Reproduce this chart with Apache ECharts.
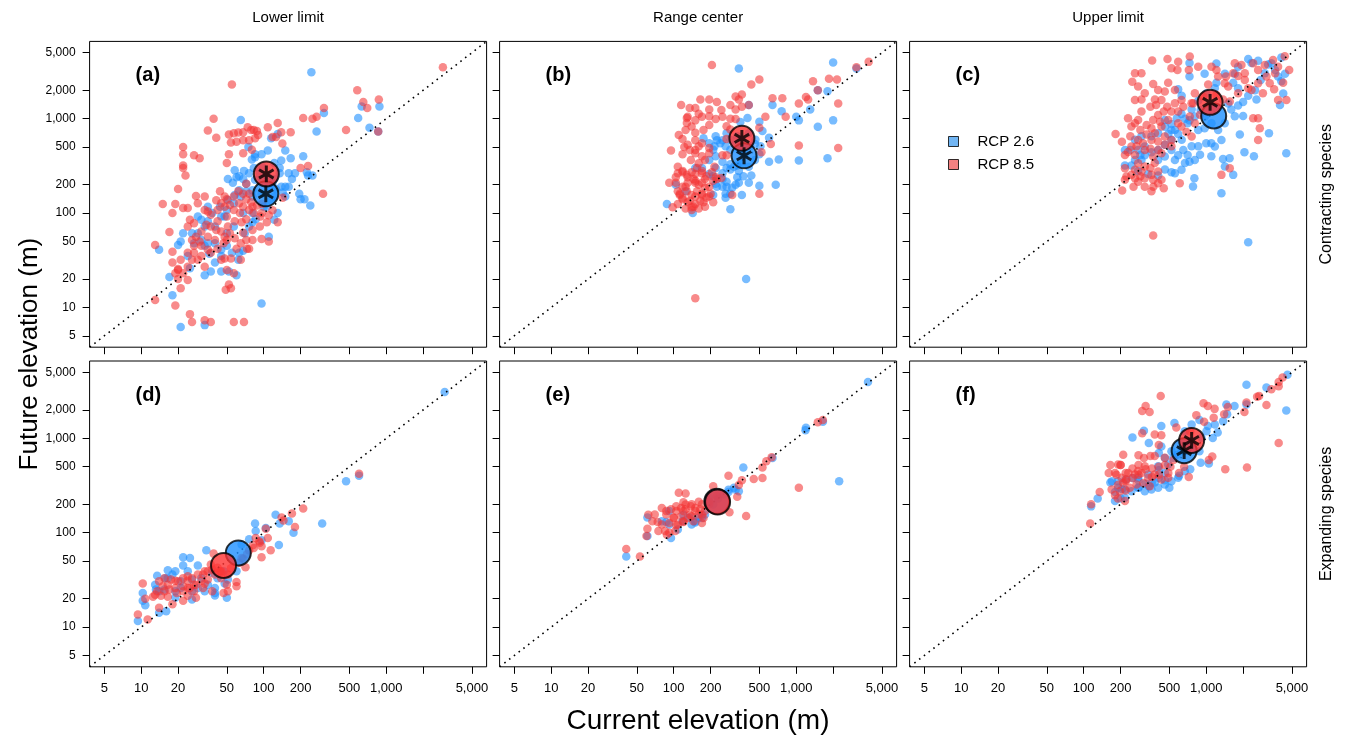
<!DOCTYPE html>
<html><head><meta charset="utf-8">
<script src="https://cdn.jsdelivr.net/npm/echarts@6/dist/echarts.min.js"></script>
<style>html,body{margin:0;padding:0;background:#fff}#chart{width:1348px;height:740px}</style>
</head><body><div id="chart"></div>
<script>
// ---------------- data ----------------
const AXIS_MIN = 3.7933, AXIS_MAX = 6591.6;
const TICK_VALUES = [5, 10, 20, 50, 100, 200, 500, 1000, 2000, 5000];
const X_LABEL_VALUES = [5, 10, 20, 50, 100, 200, 500, 1000, 5000];
const Y_LABEL_VALUES = [5, 10, 20, 50, 100, 200, 500, 1000, 2000, 5000];
const COLUMN_TITLES = ['Lower limit', 'Range center', 'Upper limit'];
const ROW_TITLES = ['Contracting species', 'Expanding species'];
const PANEL_LABELS = ['(a)', '(b)', '(c)', '(d)', '(e)', '(f)'];
const SERIES_NAMES = ['RCP 2.6', 'RCP 8.5'];
const X_TITLE = 'Current elevation (m)';
const Y_TITLE = 'Future elevation (m)';

// [current elevation, future elevation] per species
const aBlue = [[245,3100],[65,970],[310,1150],[270,730],[630,1350],[880,1350],[590,1020],[730,800],[860,730],[108,460],[150,460],[166,380],[210,400],[230,250],[250,250],[225,270],[195,160],[215,140],[240,120],[200,140],[130,100],[110,56],[96,11],[75,500],[80,370],[85,390],[96,420],[69,280],[60,240],[56,210],[72,205],[85,225],[108,245],[118,210],[139,190],[150,150],[122,150],[96,160],[81,175],[65,150],[57,127],[50,108],[45,92],[40,72],[35,82],[31,85],[29,92],[22,61],[21,50],[27,48],[33,45],[36,37],[40,30],[33,22],[37,24],[45,24],[52,24],[60,22],[62,32],[68,40],[50,45],[45,41],[35,48],[24,35],[25,26],[17,21],[18,13.5],[21,6.2],[33,6.5],[14,41],[20,46],[50,61],[57,72],[81,100],[100,117],[122,85],[81,80],[68,100],[150,190],[160,265],[135,300],[115,620],[130,690],[85,420],
  [58,285],[63,245],[68,230],[76,265],[83,300],[93,265],[97,230],[110,190],[122,230],[135,265],[126,180],[143,165],[160,190],[170,230],[180,265],[97,310],[122,340],[139,360],[81,150],[72,170],[63,175],[58,155],[51,138],[48,92],[44,117],[38,100],[35,117],[33,72],[29,61],[26,61],[31,52],[40,48],[45,35],[55,38],[63,38],[70,61],[76,72],[86,86],[106,117],[115,138],[51,230]];
const aRed = [[2900,3500],[55,2300],[580,2000],[650,1500],[700,1300],[870,1600],[860,730],[470,760],[310,1300],[270,1050],[250,1000],[210,1020],[39,1000],[35,750],[41,630],[22,500],[22,420],[27,410],[30,380],[22,320],[22,300],[23,250],[20,180],[15,125],[19,125],[18,100],[13,46],[17,63],[18,39],[18,30],[20,25],[22,23],[19,23],[20,20],[21,16],[13,12],[19,10.5],[25,8.5],[26,7],[33,7.3],[37,7],[57,7],[69,7],[49,15.4],[52,17.5],[54,16],[52,680],[57,700],[62,715],[68,720],[74,810],[79,760],[83,760],[88,740],[90,670],[85,620],[76,590],[68,590],[60,570],[54,560],[108,810],[130,900],[118,640],[126,640],[139,720],[166,720],[142,545],[68,430],[52,420],[50,340],[80,470],[200,300],[230,315],[305,160],[143,145],[130,80],[110,50],[96,53],[68,62],[76,42],[73,42],[60,42],[54,33],[48,33],[45,32],[47,48],[41,66],[35,104],[33,150],[28,152],[29,127],[33,108],[24,113],[22,113],[25,85],[24,72],[27,78],[48,150],[45,127],[42,108],[50,92],[57,108],[63,127],[68,160],[72,205],[76,160],[81,117],[96,100],[106,80],[53,61],[50,52],[40,52],[31,45],[27,38],[26,32],[24,27],[29,32],[33,27],[35,56],[37,72],[57,23],[50,25],[65,32],[81,52],
  [41,137],[44,170],[48,117],[50,140],[53,122],[57,150],[62,170],[64,100],[68,117],[72,140],[76,108],[79,130],[83,100],[88,120],[94,92],[97,125],[72,86],[66,80],[58,82],[51,72],[45,64],[42,82],[37,96],[34,75],[31,64],[28,56],[26,52],[30,50],[35,41],[42,42],[48,56],[58,54],[65,48],[72,52],[81,66],[93,72],[110,95],[118,107],[37,38],[31,35],[27,45],[24,38],[21,32],[20,25.5],[24,19.5]];

const bBlue = [[340,3400],[2000,3950],[3100,3400],[1800,1950],[1500,2000],[1300,1250],[1000,1050],[1050,960],[2000,960],[1500,820],[760,1200],[640,1400],[410,1400],[400,1020],[500,930],[530,740],[600,630],[460,540],[500,420],[600,350],[720,370],[1050,360],[1800,380],[680,200],[500,195],[430,250],[360,155],[290,110],[265,145],[290,160],[320,200],[330,240],[250,265],[220,300],[270,300],[290,330],[330,320],[360,340],[290,470],[250,590],[225,590],[270,700],[330,650],[350,920],[175,620],[195,550],[210,470],[170,300],[150,300],[195,260],[220,205],[270,190],[104,200],[125,170],[88,125],[143,100],[390,20],[250,190],[210,155],
  [220,650],[240,550],[265,510],[290,600],[320,530],[345,467],[380,430],[420,510],[465,600],[510,510],[410,700],[360,600],[290,290],[310,310],[340,280],[370,245],[410,310],[460,366],[250,230],[270,215],[300,185],[225,190],[210,245],[340,210],[410,210],[265,160],[195,366],[220,400],[250,350],[215,510]];
const bRed = [[205,3700],[3900,4000],[3100,3500],[1850,2650],[2150,2600],[1370,2500],[1500,2000],[1200,1700],[1250,1600],[1050,1450],[2200,1450],[770,1650],[640,1650],[820,1050],[1050,520],[2200,490],[500,2600],[430,2300],[360,1800],[340,1600],[410,1400],[320,1250],[560,1050],[500,800],[620,540],[520,440],[500,160],[150,12.5],[115,1400],[135,1300],[165,1600],[195,1600],[225,1500],[195,1250],[170,1050],[150,960],[130,1050],[128,900],[125,760],[110,670],[118,610],[130,530],[150,590],[160,510],[195,490],[220,990],[250,1050],[290,1000],[320,990],[290,770],[270,830],[95,460],[118,420],[150,430],[170,400],[195,430],[250,410],[270,610],[104,240],[118,280],[130,240],[150,260],[170,280],[150,220],[125,190],[108,170],[118,140],[130,130],[150,150],[170,155],[195,190],[210,220],[220,240],[180,230],[195,150],[210,130],[175,130],[145,117],[98,115],[112,155],[150,210],[245,235],[300,155],[140,115],[170,210],[270,410],
  [108,310],[118,270],[128,255],[140,270],[155,300],[170,265],[185,245],[205,270],[225,230],[130,210],[145,230],[160,200],[180,185],[200,160],[118,190],[128,170],[140,155],[155,170],[170,160],[185,145],[112,160],[118,145],[135,135],[150,125],[165,135],[180,117],[108,125],[125,112],[140,108],[160,112],[104,210],[108,265],[92,210],[138,366],[160,337],[180,366],[215,310],[150,467],[170,550],[135,467],[122,500],[150,710],[175,760],[195,857],[140,825],[160,1130],[195,1060],[245,1240],[290,1400],[320,1715],[360,1340],[128,1015],[150,1300]];

const cBlue = [[730,3900],[970,3000],[1210,3850],[1210,2400],[1420,3000],[1710,3000],[2200,4300],[2340,3900],[2650,4100],[3200,3750],[4100,4450],[4400,3000],[4100,2500],[4250,1850],[4000,1400],[4500,430],[3250,700],[2450,400],[2050,440],[1880,680],[2000,1070],[1710,1060],[1820,1380],[2000,1500],[2200,1750],[2570,1600],[2500,2000],[1820,2100],[1660,2400],[1510,1450],[1600,1250],[1175,2100],[1000,1850],[860,1550],[760,1250],[730,960],[860,760],[970,790],[1100,550],[1000,550],[860,510],[760,510],[730,350],[890,415],[1100,400],[1370,375],[1550,380],[1420,311],[1660,254],[1330,162],[800,234],[780,191],[2200,49],[630,600],[590,690],[555,760],[520,880],[670,1000],[630,1750],[590,2050],[730,2800],[520,600],[520,467],[590,410],[460,530],[405,467],[357,440],[315,410],[278,467],[262,600],[296,650],[357,650],[460,820],[490,690],[245,320],[278,280],[336,260],[217,320],[405,250],[460,290],[520,270],[670,340],[555,366],[296,366],
  [405,701],[459,970],[520,761],[575,1011],[628,1125],[705,895],[807,1053],[900,1239],[975,1053],[1104,895],[1250,761],[1416,895],[1330,596],[1175,507],[650,467],[705,413],[807,366],[628,287],[555,264],[315,507],[290,413],[262,366],[240,467],[217,467],[405,366],[459,397],[3005,3030],[3400,3866],[3650,3280],[3855,2793],[2780,2576],[1820,3560]];
const cRed = [[362,4130],[483,4300],[590,4020],[734,4550],[520,3420],[582,3280],[721,3280],[860,3560],[262,3030],[296,3030],[249,2470],[369,2335],[489,2410],[405,2018],[459,1937],[555,2018],[262,1581],[296,1600],[381,1600],[431,1581],[628,1581],[758,1458],[807,1862],[1037,2310],[1211,3280],[1250,2793],[1416,2375],[1710,3866],[1937,3715],[2065,3030],[2415,3866],[2650,3280],[3005,3715],[3510,4196],[3855,3560],[3100,2793],[4240,2410],[3580,2050],[3855,1581],[4510,1581],[4375,4600],[1820,2840],[2065,2576],[1556,1518],[2415,1011],[2650,1011],[2735,792],[2650,596],[1556,299],[1330,254],[608,207],[369,58],[206,173],[182,690],[217,413],[245,826],[278,970],[296,1189],[326,858],[369,970],[405,1096],[431,826],[489,970],[520,1189],[590,1189],[628,826],[734,1053],[807,895],[381,701],[357,596],[405,573],[459,647],[520,596],[278,596],[245,507],[262,413],[315,467],[369,397],[431,430],[278,337],[315,311],[262,287],[223,244],[262,234],[315,234],[357,254],[405,275],[431,225],[369,225],[296,275],[217,299],[782,1458],[943,1715],[1211,1787],[1510,2188],[1660,3030],[1104,3560],
  [278,2200],[315,1862],[350,1340],[390,1400],[450,1190],[480,1340],[555,1460],[650,1340],[420,930],[357,790],[326,680],[290,760],[262,895],[230,1010],[240,650],[205,570],[230,445],[270,510],[305,550],[350,480],[405,467],[460,530],[520,510],[380,340],[350,300],[290,245],[245,255],[217,225],[255,190],[315,190],[370,190],[450,183],[278,215],[405,207],[357,170],[590,895],[690,725],[760,647],[890,1100],[1370,1600],[1820,1862],[2340,2018],[2900,1862],[3300,2375],[3650,3030],[4750,3280],[2650,2375],[2200,2100],[1450,2793]];

const dBlue = [[3000,3100],[470,350],[600,400],[300,125],[125,155],[135,125],[133,74],[175,100],[85,125],[34,65],[22,55],[25,54],[29,45],[16.5,40],[13.5,35],[18,36],[15.7,33],[24,39],[22,45],[10.3,23],[10.3,19],[10.8,17],[9.4,11.6],[14,14.2],[16,14.7],[26,19.6],[40,21.6],[50,20.4],[48,29],[40,26],[33,24],[13.2,25],[15.5,25],[19,24],[21,30.6],[26,32],[31,33],[60,39],[38,37.6],[47,39],[66,75],[76,85],[86,104],[104,112],[96,83],[160,132],
  [16.5,33],[19,39],[13,28],[14,24],[21,26],[26,24],[29,26],[35,28],[42,33],[51,32],[40,23],[19,20.4]];
const dRed = [[600,420],[210,180],[170,160],[145,135],[140,145],[180,115],[108,88],[104,110],[86,88],[96,55],[93,78],[82,74],[76,65],[71,43],[63,48],[60,30],[60,27],[50,28],[47,23],[39,60],[37,46],[33,39],[40,36],[35,32],[31,31],[27,28],[24,26],[22,27],[19,26],[16.5,28],[15,27],[13.5,24],[12.5,21],[14.5,21.5],[16.5,21],[18,17.5],[22,19],[24,21.5],[27,24],[32,26],[10.3,29],[10.8,20],[9.4,13.6],[11.3,12],[14,16],[19,31],[24,31],[38,24],[28,20.5],[44,39],[45,33],[51,24],[68,53],[114,65],
  [14,30.6],[15.5,33],[17.5,32],[20,30.6],[22,33],[24,34.6],[26,33],[29,36],[32,36],[35,39],[38,40.8],[42,42.5],[45,39],[17,25],[19.5,23],[22,24],[25,26],[28,28],[33,29],[13,22],[15.5,24],[51,36],[54,42],[66,54],[73,59],[83,69],[92,81],[96,72]];

const eBlue = [[3850,3950],[1200,1290],[1190,1220],[1650,1500],[640,620],[370,490],[2240,350],[280,285],[340,275],[310,300],[255,255],[150,128],[160,145],[92,170],[87,130],[95,88],[61,145],[61,92],[41,56],[135,145],[120,155],[195,235],
  [118,132],[140,122],[150,132],[170,143],[180,156],[92,122],[80,132],[108,108],[210,199],[230,230],[280,270],[320,285]];
const eRed = [[1650,1560],[1500,1480],[630,630],[570,570],[530,490],[530,380],[450,370],[360,360],[340,320],[330,240],[280,400],[210,310],[1050,300],[390,150],[285,165],[110,265],[125,260],[120,210],[62,155],[74,130],[61,110],[60,92],[75,104],[92,100],[105,120],[87,170],[105,170],[120,170],[140,200],[170,200],[150,170],[135,155],[120,130],[100,145],[88,95],[41,67],[53,56],[170,155],[195,200],[225,245],
  [87,156],[95,177],[105,190],[115,183],[125,177],[138,190],[150,183],[165,177],[180,170],[100,143],[115,149],[130,143],[140,149],[160,156],[175,143],[92,127],[108,122],[120,132],[145,132],[170,127],[80,122],[85,104],[103,104],[125,199],[160,213],[195,213],[80,183],[70,156],[67,132]];

const fBlue = [[4600,4700],[4500,1970],[2130,3700],[3100,3450],[1460,2280],[1700,2200],[1480,1800],[1240,1150],[1130,1010],[1030,1350],[880,1560],[760,1400],[550,1450],[430,1350],[310,1200],[250,1020],[340,890],[430,820],[410,700],[520,730],[460,620],[580,670],[740,470],[600,400],[500,300],[460,360],[410,380],[360,340],[320,330],[280,360],[250,380],[220,365],[190,350],[170,350],[165,340],[180,270],[200,230],[205,290],[130,230],[115,190],[280,300],[340,310],[380,340],[460,430],[410,460],[880,730],[900,550],[1050,540],[2130,2280],
  [191,299],[217,286],[245,275],[278,299],[315,275],[357,286],[405,299],[459,324],[520,351],[590,381],[668,449],[278,381],[336,413],[405,507],[489,527],[537,621],[628,731],[758,933],[914,1012],[668,1188],[1005,1188],[1175,1399],[1373,1517],[217,234],[180,216]];
const fRed = [[425,2800],[320,2200],[300,1950],[345,1900],[950,2350],[1030,2200],[1170,2050],[1150,1650],[1400,1800],[1500,2150],[2050,1900],[2130,2400],[2600,2750],[2700,2800],[3100,2250],[3400,3300],[3900,3950],[4200,4400],[3900,3550],[3900,890],[2150,490],[1430,470],[1050,590],[1120,640],[830,1760],[960,1500],[740,1180],[570,1300],[380,1100],[430,1080],[410,850],[300,1130],[380,650],[350,650],[310,620],[280,660],[210,670],[200,520],[165,520],[160,430],[185,410],[220,430],[250,480],[280,520],[320,470],[360,480],[410,500],[460,520],[510,500],[540,590],[600,430],[720,390],[410,410],[360,390],[280,410],[250,380],[220,350],[190,320],[180,250],[190,230],[220,280],[135,270],[115,200],[113,125],[200,520],[660,500],[490,430],
  [180,430],[204,381],[231,430],[262,413],[296,430],[336,381],[380,413],[431,366],[489,381],[210,337],[238,299],[270,324],[306,337],[346,311],[197,275],[223,366],[278,449],[315,507],[459,621],[191,527],[169,286],[217,216]];

const MEAN_BLUE = [[104,160],[375,405],[1150,1070],[62,61],[225,215],[660,740]];
const MEAN_RED  = [[105,260],[360,620],[1075,1490],[47,45],[228,212],[760,950]];
const SIG_BLUE = [true, true, false, false, false, true];
const SIG_RED  = [true, true, true, false, false, true];

const PANEL_BLUE = [aBlue, bBlue, cBlue, dBlue, eBlue, fBlue];
const PANEL_RED  = [aRed, bRed, cRed, dRed, eRed, fRed];

// ---------------- layout / style ----------------
const COL_LEFT = [89.6, 499.6, 909.6], PANEL_W = 397;
const ROW_TOP = [41.4, 361], PANEL_H = 305.8;
const FONT = '"Liberation Sans", Arial, Helvetica, sans-serif';
const BLUE_PT = 'rgba(30,144,255,0.75)', RED_PT = 'rgba(242,52,52,0.72)';
const BLUE_BIG = '#1E90FF', RED_BIG = '#FF3333';
const ASTERISK = 'path://M-1.6,-9L1.6,-9L1.6,9L-1.6,9ZM-8.594,-3.114L-6.994,-5.886L8.594,3.114L6.994,5.886ZM-8.594,3.114L6.994,-5.886L8.594,-3.114L-6.994,5.886Z';
const fmt = v => Math.round(Number(v)).toLocaleString('en-US');

const grids = [], xAxes = [], yAxes = [], series = [], graphics = [];
for (let i = 0; i < 6; i++) {
  const r = Math.floor(i / 3), c = i % 3;
  grids.push({left: COL_LEFT[c], top: ROW_TOP[r], width: PANEL_W, height: PANEL_H,
    show: true, borderColor: '#000', borderWidth: 1, backgroundColor: 'transparent'});
  const tick = {show: true, inside: false, length: 7, lineStyle: {color: '#000', width: 1}, customValues: TICK_VALUES};
  xAxes.push({type: 'log', logBase: 10, gridIndex: i, min: AXIS_MIN, max: AXIS_MAX,
    axisLine: {show: false}, splitLine: {show: false}, minorTick: {show: false},
    axisTick: tick,
    axisLabel: {show: r === 1, customValues: X_LABEL_VALUES, formatter: fmt, fontSize: 13,
      color: '#000', fontFamily: FONT, margin: 15}});
  yAxes.push({type: 'log', logBase: 10, gridIndex: i, min: AXIS_MIN, max: AXIS_MAX,
    axisLine: {show: false}, splitLine: {show: false}, minorTick: {show: false},
    axisTick: tick,
    axisLabel: {show: c === 0, customValues: Y_LABEL_VALUES, formatter: fmt, fontSize: 12,
      color: '#000', fontFamily: FONT, margin: 14}});
  const base = {type: 'scatter', xAxisIndex: i, yAxisIndex: i, symbol: 'circle', silent: true};
  series.push(Object.assign({}, base, {name: SERIES_NAMES[0], data: PANEL_BLUE[i], symbolSize: 8.5,
    itemStyle: {color: BLUE_PT}, z: 2}));
  series.push(Object.assign({}, base, {name: SERIES_NAMES[1], data: PANEL_RED[i], symbolSize: 8.5,
    itemStyle: {color: RED_PT}, z: 2}));
  series.push({type: 'line', xAxisIndex: i, yAxisIndex: i, silent: true, symbol: 'none',
    data: [[AXIS_MIN, AXIS_MIN], [AXIS_MAX, AXIS_MAX]],
    lineStyle: {color: '#000', width: 1.6, type: [1.6, 4.4]}, z: 3});
  series.push(Object.assign({}, base, {name: 'mean ' + SERIES_NAMES[0], data: [MEAN_BLUE[i]], symbolSize: 25,
    itemStyle: {color: BLUE_BIG, borderColor: '#000', borderWidth: 2}, z: 4}));
  series.push(Object.assign({}, base, {name: 'mean ' + SERIES_NAMES[1], data: [MEAN_RED[i]], symbolSize: 25,
    itemStyle: {color: RED_BIG, borderColor: '#000', borderWidth: 2}, z: 4}));
  const sig = [];
  if (SIG_BLUE[i]) sig.push(MEAN_BLUE[i]);
  if (SIG_RED[i]) sig.push(MEAN_RED[i]);
  series.push(Object.assign({}, base, {name: 'significant', data: sig, symbol: ASTERISK,
    symbolSize: [16, 16.8], itemStyle: {color: '#000'}, z: 5}));
  graphics.push({type: 'text', left: COL_LEFT[c] + 46, top: ROW_TOP[r] + 24,
    style: {text: PANEL_LABELS[i], font: 'bold 20px ' + FONT, fill: '#000'}});
}
for (let c = 0; c < 3; c++) {
  graphics.push({type: 'text', x: COL_LEFT[c] + PANEL_W / 2, y: 18,
    style: {text: COLUMN_TITLES[c], font: '15px ' + FONT, fill: '#000', align: 'center', verticalAlign: 'middle'}});
}
for (let r = 0; r < 2; r++) {
  graphics.push({type: 'text', x: 1327, y: ROW_TOP[r] + PANEL_H / 2, rotation: Math.PI / 2,
    style: {text: ROW_TITLES[r], font: '16px ' + FONT, fill: '#000', align: 'center', verticalAlign: 'middle'}});
}
graphics.push({type: 'text', x: 30, y: (ROW_TOP[0] + ROW_TOP[1] + PANEL_H) / 2, rotation: Math.PI / 2,
  style: {text: Y_TITLE, font: '26px ' + FONT, fill: '#000', align: 'center', verticalAlign: 'middle'}});
graphics.push({type: 'text', x: 698, y: 721,
  style: {text: X_TITLE, font: '28px ' + FONT, fill: '#000', align: 'center', verticalAlign: 'middle'}});

const chart = echarts.init(document.getElementById('chart'), null, {renderer: 'canvas'});
chart.setOption({
  animation: false,
  backgroundColor: '#fff',
  grid: grids, xAxis: xAxes, yAxis: yAxes, series: series, graphic: graphics,
  legend: {left: 943, top: 129, orient: 'vertical', itemWidth: 10, itemHeight: 10, itemGap: 8,
    selectedMode: false, icon: 'rect',
    textStyle: {fontSize: 15, fontFamily: FONT, color: '#000', padding: [0, 0, 0, 14]},
    data: SERIES_NAMES.map((n, k) => ({name: n, itemStyle: {color: k ? 'rgb(240,98,98)' : 'rgb(77,163,240)', borderColor: '#000', borderWidth: 1}}))}
});
</script></body></html>
